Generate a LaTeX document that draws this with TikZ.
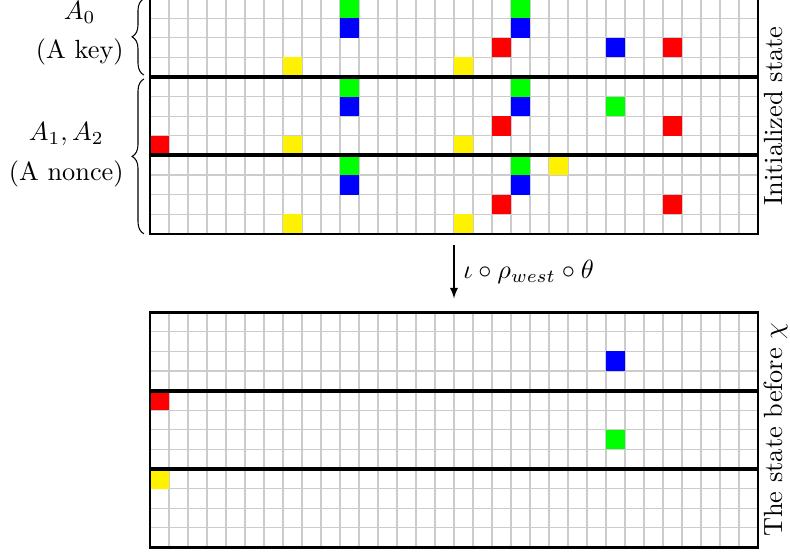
\documentclass[tikz,border=0pt]{standalone}
\usetikzlibrary{decorations.pathreplacing}

\begin{document}
\begin{tikzpicture}[>=latex, x=0.2538cm, y=0.2618cm, every node/.style={font=\normalsize},
    gridline/.style={gray!40, thin},
    frameline/.style={line width=1pt},
    planesep/.style={line width=1.5pt}]

% Marco de la figura (el borde superior queda recortado)
\useasboundingbox (-7.895,-0.357) rectangle (33.684,27.93);

% Tamaño de la rejilla: 32 columnas, 3 planos de 4 filas
\def\ncols{32}
\def\nrows{12}

% =============================================
% ESTADO INICIAL (arriba)
% =============================================
\begin{scope}[shift={(0,16)}]
    % Rejilla de fondo
    \draw[gridline, xstep=1, ystep=1] (0,0) grid (\ncols,\nrows);

    % Bits activos: columna/fila (desde arriba)/color
    \foreach \c/\r/\clr in {10/0/green, 19/0/green, 10/1/blue, 19/1/blue,
                            18/2/red, 24/2/blue, 27/2/red, 7/3/yellow, 16/3/yellow,
                            10/4/green, 19/4/green, 10/5/blue, 19/5/blue, 24/5/green,
                            18/6/red, 27/6/red, 0/7/red, 7/7/yellow, 16/7/yellow,
                            10/8/green, 19/8/green, 21/8/yellow, 10/9/blue, 19/9/blue,
                            18/10/red, 27/10/red, 7/11/yellow, 16/11/yellow} {
        \fill[\clr] (\c,{11-\r}) rectangle ++(1,1);
    }

    % Separadores de planos y marco
    \draw[planesep] (0,4) -- (\ncols,4);
    \draw[planesep] (0,8) -- (\ncols,8);
    \draw[frameline] (0,0) rectangle (\ncols,\nrows);

    % Llaves de los planos
    \draw[decorate, decoration={brace, amplitude=4.5pt}] (-0.32,8.1) -- (-0.32,12);
    \draw[decorate, decoration={brace, amplitude=4.5pt}] (-0.32,0) -- (-0.32,7.9);

    % Etiquetas
    \node[anchor=east, align=center] (keylbl) at (-0.9,10.22) {$A_0$\\[3pt](A key)};
    \node[anchor=east, align=center] (noncelbl) at (-0.9,4.03) {$A_1, A_2$\\[3pt](A nonce)};
    \node[rotate=90, anchor=north, inner sep=2pt] (initlbl) at (\ncols,6) {Initialized state};

    \coordinate (arrtop) at (16,-0.59);
\end{scope}

% =============================================
% ESTADO ANTES DE CHI (abajo)
% =============================================
\begin{scope}
    % Rejilla de fondo
    \draw[gridline, xstep=1, ystep=1] (0,0) grid (\ncols,\nrows);

    % Bits activos
    \foreach \c/\r/\clr in {24/2/blue, 0/4/red, 24/6/green, 0/8/yellow} {
        \fill[\clr] (\c,{11-\r}) rectangle ++(1,1);
    }

    % Separadores de planos y marco
    \draw[planesep] (0,4) -- (\ncols,4);
    \draw[planesep] (0,8) -- (\ncols,8);
    \draw[frameline] (0,0) rectangle (\ncols,\nrows);

    % Etiqueta
    \node[rotate=90, anchor=north, inner sep=2pt] (chilbl) at (\ncols,6) {The state before $\chi$};

    \coordinate (arrbot) at (16,12.7);
\end{scope}

% Flecha de la transformación
\draw[->] (arrtop) -- node[right] (oplbl) {$\iota \circ \rho_{west} \circ \theta$} (arrbot);

\end{tikzpicture}
\end{document}
